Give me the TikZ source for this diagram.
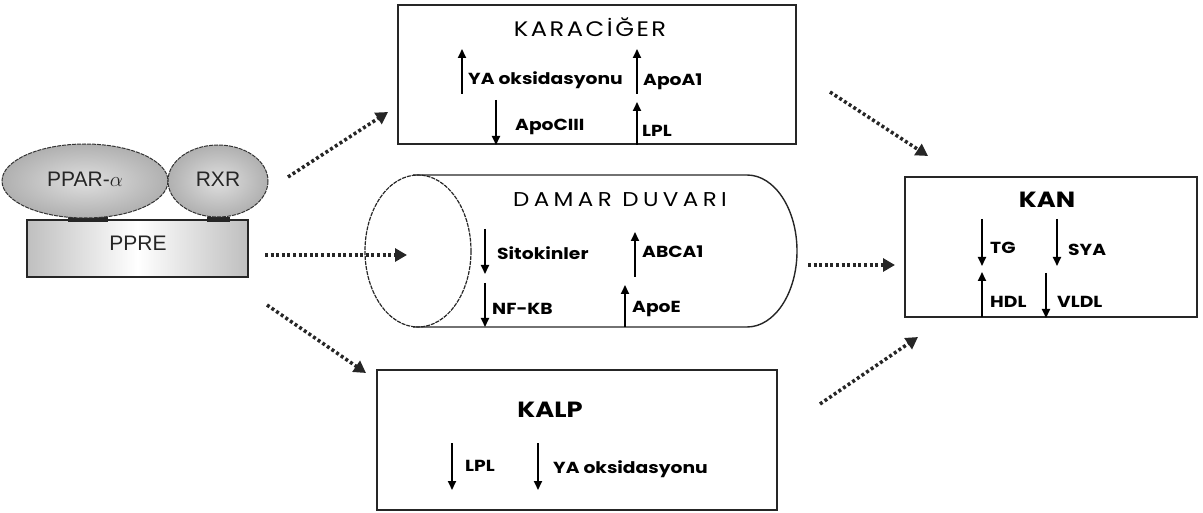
\documentclass[tikz,border=0pt]{standalone}
\usepackage{fontspec}
\setmainfont{Poppins}
\newfontfamily\arialf{Liberation Sans}
\newfontfamily\comic[FakeStretch=1.17]{Poppins}
\newfontfamily\comicT[FakeStretch=1.15,LetterSpace=12]{Poppins}
\newfontfamily\comicD[FakeStretch=1.15,LetterSpace=22]{Poppins}
\usetikzlibrary{arrows.meta,shadings}
\begin{document}
\begin{tikzpicture}[x=1pt,y=-1pt,
  box/.style={draw=black!85, line width=1.6pt},
  dotarrow/.style={line width=3.5pt, black!85, dash pattern=on 3pt off 2.6pt,
     -{Triangle[length=12pt,width=13pt]}},
  updown/.style={line width=1.8pt, -{Triangle[length=9pt,width=8pt]}},
  lbl/.style={anchor=west, font=\comic\fontsize{16}{18}\selectfont\bfseries, inner sep=0pt},
  ttl/.style={font=\comicT\fontsize{21}{24}\selectfont, inner sep=0pt},
  ttld/.style={font=\comicD\fontsize{20}{24}\selectfont, inner sep=0pt},
  ttlb/.style={font=\comic\fontsize{22}{24}\selectfont\bfseries, inner sep=0pt},
  prot/.style={draw=black!80, line width=1pt, dash pattern=on 4pt off 1pt, inner color=gray!25, outer color=gray!62},
  plbl/.style={font=\arialf\fontsize{21}{24}\selectfont, text=black!85, inner sep=0pt}]
\useasboundingbox (0,0) rectangle (1203,513);

% ---- receptor complex ----
\draw[black!85, line width=1.2pt, left color=gray!50, right color=gray!50, middle color=white]
  (27,220) rectangle (248,277);
\node[plbl] (ppre) at (138,243) {PPRE};
\fill[black!85] (68,217) rectangle (108,222);
\fill[black!85] (207,217) rectangle (230,222);
\path[prot] (85,181) ellipse [x radius=83, y radius=37];
\node[plbl] (ppar) at (85,179) {PPAR-$\alpha$};
\path[prot] (218,181) ellipse [x radius=50, y radius=36];
\node[plbl] (rxr) at (218,179) {RXR};

% ---- KARACIGER ----
\draw[box] (398,5) rectangle (796,144);
\node[ttl] (kar) at (590,27) {KARACİĞER};
\draw[updown] (462,94) -- (462,49);
\node[lbl] (ya1) at (468,80) {YA oksidasyonu};
\draw[updown] (637,94) -- (637,49);
\node[lbl] (apoa) at (643,82) {ApoA1};
\draw[updown] (496,100) -- (496,145);
\node[lbl] (apoc) at (515,127) {ApoCIII};
\draw[updown] (637,145) -- (637,102);
\node[lbl] (lpl1) at (642,131) {LPL};

% ---- DAMAR DUVARI (tube) ----
\draw[black!85, line width=1.4pt] (413,175) -- (747,175)
   arc[start angle=-90, end angle=90, x radius=50, y radius=76] -- (413,327);
\draw[black!85, line width=1.2pt, dash pattern=on 4pt off 1pt] (418,251) ellipse [x radius=53, y radius=76];
\node[ttld] (damar) at (620,200) {DAMAR DUVARI};
\draw[updown] (485,229) -- (485,274);
\node[lbl] (sito) at (497,253) {Sitokinler};
\draw[updown] (485,283) -- (485,327);
\node[lbl] (nfkb) at (492,309) {NF-KB};
\draw[updown] (635,277) -- (635,232);
\node[lbl] (abca) at (642,252) {ABCA1};
\draw[updown] (625,327) -- (625,285);
\node[lbl] (apoe) at (632,309) {ApoE};

% ---- KAN ----
\draw[box] (905,177) rectangle (1197,317);
\node[ttlb] (kan) at (1047,200) {KAN};
\draw[updown] (982,219) -- (982,266);
\node[lbl] (tg) at (990,248) {TG};
\draw[updown] (1057,219) -- (1057,266);
\node[lbl] (sya) at (1068,250) {SYA};
\draw[updown] (982,317) -- (982,272);
\node[lbl] (hdl) at (990,302) {HDL};
\draw[updown] (1046,273) -- (1046,318);
\node[lbl] (vldl) at (1057,302) {VLDL};

% ---- KALP ----
\draw[box] (377,370) rectangle (777,510);
\node[ttlb] (kalp) at (550,410) {KALP};
\draw[updown] (452,443) -- (452,490);
\node[lbl] (lpl2) at (465,466) {LPL};
\draw[updown] (538,443) -- (538,490);
\node[lbl] (ya2) at (553,469) {YA oksidasyonu};

% ---- dotted connectors ----
\coordinate (s1) at (288,177); \coordinate (e1) at (388,112);
\coordinate (s2) at (830,92);  \coordinate (e2) at (928,156);
\coordinate (s3) at (265,255); \coordinate (e3) at (407,255);
\coordinate (s4) at (808,265); \coordinate (e4) at (895,265);
\coordinate (s5) at (267,305); \coordinate (e5) at (366,373);
\coordinate (s6) at (820,404); \coordinate (e6) at (918,337);
\foreach \i in {1,...,6} \draw[dotarrow] (s\i) -- (e\i);
\end{tikzpicture}
\end{document}
